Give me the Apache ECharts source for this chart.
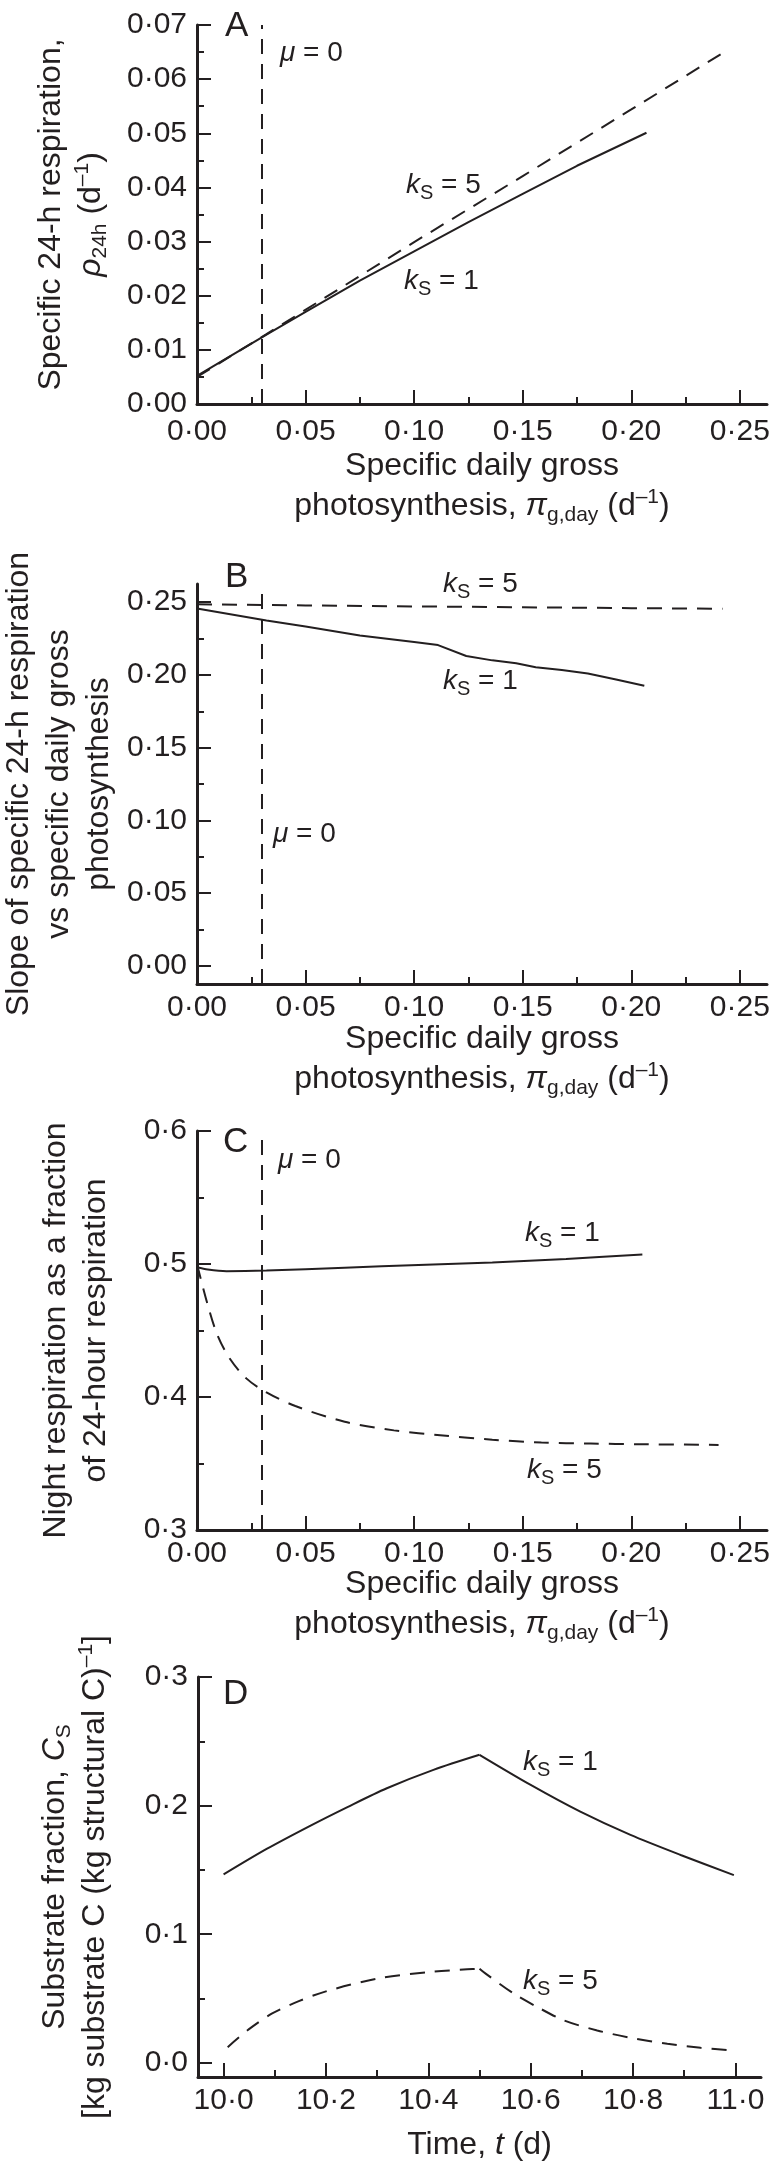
<!DOCTYPE html>
<html><head><meta charset="utf-8">
<script src="https://cdn.jsdelivr.net/npm/echarts@6/dist/echarts.min.js"></script>
<style>html,body{margin:0;padding:0;background:#fff}#c{width:770px;height:2161px}</style>
</head><body><div id="c"></div>
<script>
// ---------------- data ----------------
// vertical marker: mu = 0
const MU_ZERO = 0.0318;

// Panel A: specific 24-h respiration vs specific daily gross photosynthesis
const aPi_ks1  = [0, 0.032, 0.05, 0.075, 0.1, 0.125, 0.15, 0.175, 0.207];
const aRho_ks1 = [0.0052, 0.0128, 0.0170, 0.0228, 0.0282, 0.0336, 0.0388, 0.0440, 0.0501];
const aPi_ks5  = [0, 0.032, 0.1, 0.15, 0.2, 0.242];
const aRho_ks5 = [0.0050, 0.0129, 0.0299, 0.0421, 0.0544, 0.0648];

// Panel B: slope
const bPi_ks1    = [0, 0.032, 0.05, 0.075, 0.1, 0.111, 0.124, 0.136, 0.147, 0.156, 0.168, 0.18, 0.193, 0.206];
const bSlope_ks1 = [0.2457, 0.2374, 0.2333, 0.2271, 0.2226, 0.2205, 0.2130, 0.2100, 0.2080, 0.2052, 0.2033, 0.2010, 0.1969, 0.1926];
const bPi_ks5    = [0, 0.05, 0.1, 0.15, 0.2, 0.242];
const bSlope_ks5 = [0.2485, 0.2478, 0.2471, 0.2465, 0.2459, 0.2455];

// Panel C: night respiration fraction
const cPi_ks1   = [0, 0.005, 0.0136, 0.032, 0.068, 0.102, 0.136, 0.17, 0.2051];
const cFrac_ks1 = [0.4975, 0.4958, 0.4946, 0.4951, 0.4972, 0.4993, 0.5011, 0.5038, 0.5071];
const cPi_ks5   = [0, 0.0046, 0.0091, 0.0148, 0.0227, 0.032, 0.0453, 0.068, 0.0907, 0.1133, 0.136, 0.1586, 0.1813, 0.204, 0.2402];
const cFrac_ks5 = [0.4998, 0.4712, 0.4478, 0.4296, 0.414, 0.4035, 0.3932, 0.3814, 0.3749, 0.371, 0.3679, 0.3658, 0.365, 0.3645, 0.364];

// Panel D: substrate fraction over time
const dT_ks1  = [10.0, 10.085, 10.17, 10.241, 10.319, 10.41, 10.5, 10.6, 10.697, 10.795, 10.893, 10.997];
const dCs_ks1 = [0.1465, 0.1665, 0.1845, 0.1987, 0.2135, 0.2278, 0.2395, 0.2161, 0.1953, 0.1772, 0.1616, 0.146];
const dT_ks5  = [10.008, 10.049, 10.094, 10.147, 10.2, 10.3, 10.4, 10.476, 10.5, 10.512, 10.567, 10.613, 10.665, 10.73, 10.795, 10.867, 10.932, 10.997];
const dCs_ks5 = [0.0122, 0.026, 0.0382, 0.048, 0.0556, 0.0655, 0.0706, 0.0727, 0.0732, 0.0694, 0.0538, 0.0434, 0.033, 0.0252, 0.0195, 0.0148, 0.0117, 0.0096];

// ticks & tick labels
const piTicks       = [0, 0.05, 0.1, 0.15, 0.2, 0.25];
const piTickLabels  = ['0·00', '0·05', '0·10', '0·15', '0·20', '0·25'];
const piMinorTicks  = [0.025, 0.075, 0.125, 0.175, 0.225];
const aYTicks       = [0, 0.01, 0.02, 0.03, 0.04, 0.05, 0.06, 0.07];
const aYTickLabels  = ['0·00', '0·01', '0·02', '0·03', '0·04', '0·05', '0·06', '0·07'];
const aYMinorTicks  = [0.005, 0.015, 0.025, 0.035, 0.045, 0.055, 0.065];
const bYTicks       = [0, 0.05, 0.1, 0.15, 0.2, 0.25];
const bYTickLabels  = ['0·00', '0·05', '0·10', '0·15', '0·20', '0·25'];
const bYMinorTicks  = [0.025, 0.075, 0.125, 0.175, 0.225];
const cYTicks       = [0.3, 0.4, 0.5, 0.6];
const cYTickLabels  = ['0·3', '0·4', '0·5', '0·6'];
const cYMinorTicks  = [0.35, 0.45, 0.55];
const dYTicks       = [0, 0.1, 0.2, 0.3];
const dYTickLabels  = ['0·0', '0·1', '0·2', '0·3'];
const dYMinorTicks  = [0.05, 0.15, 0.25];
const dXTicks       = [10.0, 10.2, 10.4, 10.6, 10.8, 11.0];
const dXTickLabels  = ['10·0', '10·2', '10·4', '10·6', '10·8', '11·0'];
const dXMinorTicks  = [10.1, 10.3, 10.5, 10.7, 10.9];

// axis ranges
const piRange = [0, 0.2625];
const aYRange = [0, 0.07];
const bYRange = [-0.0125, 0.2625];
const cYRange = [0.3, 0.6];
const dYRange = [-0.011, 0.3];
const dXRange = [9.95, 11.05];

// ---------------- layout & styles ----------------
const FONT = '"Liberation Sans", Arial, Helvetica, sans-serif';
const INK = '#231f20';
const DASH = [15, 10];
const GRIDS = [
  {left: 197, top: 25,   width: 570, height: 379},
  {left: 197, top: 584,  width: 570, height: 400},
  {left: 197, top: 1131, width: 570, height: 399},
  {left: 198, top: 1677, width: 563, height: 400}
];

const nameRich = {
  i:   {fontStyle: 'italic', fontSize: 32, fontFamily: FONT, color: INK, lineHeight: 40},
  sub: {fontSize: 21, fontFamily: FONT, color: INK, lineHeight: 40, padding: [18, 0, 0, 0]},
  sup: {fontSize: 21, fontFamily: FONT, color: INK, lineHeight: 40, padding: [0, 0, 18, 0]}
};
const nameStyle = {fontFamily: FONT, fontSize: 32, color: INK, lineHeight: 40, rich: nameRich};

const PI_NAME = 'Specific daily gross\nphotosynthesis, {i|π}{sub|g,day} (d{sup|–1})';

function lookup(ticks, labels) {
  return function (v) {
    let best = 0;
    for (let k = 1; k < ticks.length; k++) if (Math.abs(ticks[k] - v) < Math.abs(ticks[best] - v)) best = k;
    return labels[best];
  };
}

function majorAxis(dim, gi, range, ticks, labels, name, nameGap, margin) {
  return {
    type: 'value', gridIndex: gi, min: range[0], max: range[1],
    position: dim === 'x' ? 'bottom' : 'left',
    name: name, nameLocation: 'middle', nameGap: nameGap,
    nameRotate: dim === 'x' ? 0 : 90,
    nameMoveOverlap: false,
    nameTextStyle: nameStyle,
    axisLine: {show: true, onZero: false, lineStyle: {color: INK, width: 3}},
    axisTick: {show: true, inside: true, length: 14, customValues: ticks, lineStyle: {color: INK, width: 2}},
    minorTick: {show: false},
    axisLabel: {show: true, customValues: ticks, margin: margin, fontFamily: FONT, fontSize: 30, color: INK,
                formatter: lookup(ticks, labels)},
    splitLine: {show: false},
    axisPointer: {show: false}
  };
}
function minorAxis(dim, gi, range, minors) {
  return {
    type: 'value', gridIndex: gi, min: range[0], max: range[1],
    position: dim === 'x' ? 'bottom' : 'left',
    axisLine: {show: false, onZero: false},
    axisTick: {show: true, inside: true, length: 7, customValues: minors, lineStyle: {color: INK, width: 2}},
    axisLabel: {show: false, customValues: minors},
    splitLine: {show: false}
  };
}

const xAxes = [
  majorAxis('x', 0, piRange, piTicks, piTickLabels, PI_NAME, 42, 13),
  majorAxis('x', 1, piRange, piTicks, piTickLabels, PI_NAME, 35, 9),
  majorAxis('x', 2, piRange, piTicks, piTickLabels, PI_NAME, 34, 9),
  majorAxis('x', 3, dXRange, dXTicks, dXTickLabels, 'Time, {i|t} (d)', 48, 9),
  minorAxis('x', 0, piRange, piMinorTicks),
  minorAxis('x', 1, piRange, piMinorTicks),
  minorAxis('x', 2, piRange, piMinorTicks),
  minorAxis('x', 3, dXRange, dXMinorTicks)
];
const yAxes = [
  majorAxis('y', 0, aYRange, aYTicks, aYTickLabels, 'Specific 24-h respiration,\n{i|ρ}{sub|24h} (d{sup|–1})', 86, 10),
  majorAxis('y', 1, bYRange, bYTicks, bYTickLabels, 'Slope of specific 24-h respiration\nvs specific daily gross\nphotosynthesis', 78, 10),
  majorAxis('y', 2, cYRange, cYTicks, cYTickLabels, 'Night respiration as a fraction\nof 24-hour respiration', 81, 10),
  majorAxis('y', 3, dYRange, dYTicks, dYTickLabels, 'Substrate fraction, {i|C}{sub|S}\n[kg substrate C (kg structural C){sup|–1}]', 83, 10),
  minorAxis('y', 0, aYRange, aYMinorTicks),
  minorAxis('y', 1, bYRange, bYMinorTicks),
  minorAxis('y', 2, cYRange, cYMinorTicks),
  minorAxis('y', 3, dYRange, dYMinorTicks)
];

function zip(xs, ys) { return xs.map((x, k) => [x, ys[k]]); }
function lineSeries(gi, pts, dashed, smooth, withMu) {
  const s = {
    type: 'line', xAxisIndex: gi, yAxisIndex: gi, data: pts,
    showSymbol: false, symbol: 'none', smooth: smooth,
    lineStyle: {color: INK, width: 2, type: dashed ? DASH : 'solid'},
    silent: true, z: 3
  };
  if (withMu) {
    s.markLine = {
      silent: true, symbol: 'none', animation: false,
      label: {show: false},
      lineStyle: {color: INK, width: 2, type: DASH},
      data: [{xAxis: MU_ZERO}]
    };
  }
  return s;
}
// split a curve at its maximum so that the sharp peak (end of the light period) stays sharp
function splitAtPeak(xs, ys) {
  let p = 0;
  ys.forEach((v, k) => { if (v > ys[p]) p = k; });
  const pts = zip(xs, ys);
  return [pts.slice(0, p + 1), pts.slice(p)];
}
const dKs1 = splitAtPeak(dT_ks1, dCs_ks1);
const dKs5 = splitAtPeak(dT_ks5, dCs_ks5);

const series = [
  lineSeries(0, zip(aPi_ks1, aRho_ks1), false, false, true),
  lineSeries(0, zip(aPi_ks5, aRho_ks5), true, false, false),
  lineSeries(1, zip(bPi_ks1, bSlope_ks1), false, false, true),
  lineSeries(1, zip(bPi_ks5, bSlope_ks5), true, false, false),
  lineSeries(2, zip(cPi_ks1, cFrac_ks1), false, 0.3, true),
  lineSeries(2, zip(cPi_ks5, cFrac_ks5), true, 0.3, false),
  lineSeries(3, dKs1[0], false, 0.3, false),
  lineSeries(3, dKs1[1], false, 0.3, false),
  lineSeries(3, dKs5[0], true, 0.3, false),
  lineSeries(3, dKs5[1], true, 0.3, false)
];

// ---------------- annotations ----------------
const labelRich = {
  i:   {fontStyle: 'italic', fontSize: 28, fontFamily: FONT, fill: INK},
  sub: {fontSize: 20, fontFamily: FONT, fill: INK, padding: [16, 0, 0, 0]}
};
const panelLetters = [
  {text: 'A', x: 225, y: 26},
  {text: 'B', x: 225, y: 577},
  {text: 'C', x: 223, y: 1142},
  {text: 'D', x: 223, y: 1694}
];
const annotations = [
  {text: '{i|μ} = 0', x: 280, y: 53},
  {text: '{i|μ} = 0', x: 273, y: 834},
  {text: '{i|μ} = 0', x: 278, y: 1160},
  {text: '{i|k}{sub|S} = 5', x: 406, y: 185},
  {text: '{i|k}{sub|S} = 1', x: 404, y: 281},
  {text: '{i|k}{sub|S} = 5', x: 443, y: 584},
  {text: '{i|k}{sub|S} = 1', x: 443, y: 681},
  {text: '{i|k}{sub|S} = 1', x: 525, y: 1233},
  {text: '{i|k}{sub|S} = 5', x: 527, y: 1470},
  {text: '{i|k}{sub|S} = 1', x: 523, y: 1762},
  {text: '{i|k}{sub|S} = 5', x: 523, y: 1981}
];
function textEl(a, size, rich) {
  return {
    type: 'text', x: a.x, y: a.y, silent: true, z: 10,
    style: {
      text: a.text, fill: INK, fontSize: size, fontFamily: FONT,
      align: 'left', verticalAlign: 'middle', textAlign: 'left', textVerticalAlign: 'middle',
      rich: rich
    }
  };
}
const graphic = [
  ...panelLetters.map(a => textEl(a, 35, undefined)),
  ...annotations.map(a => textEl(a, 28, labelRich))
];

const chart = echarts.init(document.getElementById('c'), null, {renderer: 'canvas', width: 770, height: 2161});
chart.setOption({
  animation: false,
  backgroundColor: '#ffffff',
  textStyle: {fontFamily: FONT},
  grid: GRIDS.map(g => Object.assign({containLabel: false, outerBoundsMode: 'none'}, g)),
  xAxis: xAxes,
  yAxis: yAxes,
  series: series,
  graphic: graphic
});
</script></body></html>
